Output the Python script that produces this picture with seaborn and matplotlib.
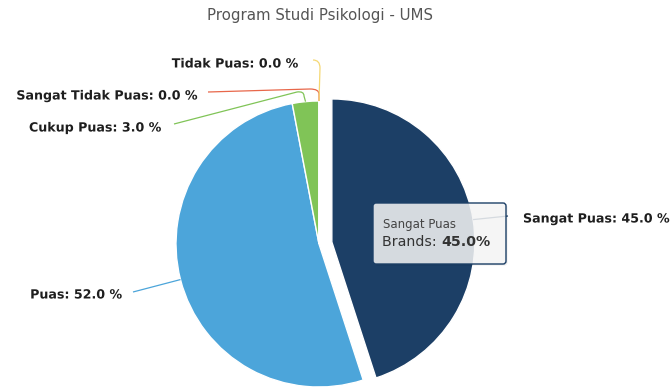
import numpy as np
import matplotlib
matplotlib.use("Agg")
import matplotlib.pyplot as plt
import matplotlib.patheffects as pe
from matplotlib.patches import FancyBboxPatch
from matplotlib.path import Path
from matplotlib.patches import PathPatch
import seaborn as sns

# Survey result: satisfaction with the study program
categories = ["Sangat Puas", "Puas", "Cukup Puas", "Sangat Tidak Puas", "Tidak Puas"]
values = [45.0, 52.0, 3.0, 0.0, 0.0]
colors = ["#1c3f66", "#4ca5da", "#80c457", "#e8674a", "#f5d874"]
title = "Program Studi Psikologi - UMS"
series_name = "Brands"
highlight = "Sangat Puas"

W, H = 672, 389
sns.set_theme(style="white")
plt.rcParams["font.family"] = ["DejaVu Sans"]

fig = plt.figure(figsize=(W / 100, H / 100), dpi=100)
ax = fig.add_axes([0, 0, 1, 1])


def Y(y):
    """Screen-style y (down) to axes y (up)."""
    return H - y


cx, cy, r = 319, Y(244), 143
# explode distance is in data units (pixels here)
explode = [13.0 if c == highlight else 0.0 for c in categories]
wedges, _ = ax.pie(values, colors=colors, startangle=90, counterclock=False,
                   center=(cx, cy), radius=r, explode=explode,
                   wedgeprops=dict(edgecolor="white", linewidth=1.0))
ax.set_xlim(0, W)
ax.set_ylim(0, H)
ax.set_aspect("equal")
ax.axis("off")


def edge_point(w):
    mid = np.deg2rad((w.theta1 + w.theta2) / 2)
    x0, y0 = w.center
    return x0 + w.r * np.cos(mid), y0 + w.r * np.sin(mid)


# label text anchors (right or left end, screen y) and connector route
layout = {
    "Sangat Puas": dict(tx=523, ty=219, ha="left", route=[(508, 216)]),
    "Puas": dict(tx=122, ty=295, ha="right", route=[(133, 292)]),
    "Cukup Puas": dict(tx=161, ty=128, ha="right",
                       route=[("c", (304, 91), (297, 92)), (174, 124)]),
    "Sangat Tidak Puas": dict(tx=197, ty=96, ha="right",
                              route=[("c", (319, 89), (310, 89)), (208, 92)]),
    "Tidak Puas": dict(tx=298, ty=64, ha="right",
                       route=[("c", (320, 60), (313, 60))]),
}

halo = [pe.withStroke(linewidth=2.2, foreground="white")]
for w, cat, val, col in zip(wedges, categories, values, colors):
    L = layout[cat]
    ex, ey = edge_point(w)
    verts, codes = [(ex, ey)], [Path.MOVETO]
    for step in L["route"]:
        if step[0] == "c":
            ctrl, end = step[1], step[2]
            # straight run toward the bend, then a rounded corner
            verts.append((ctrl[0], Y(ctrl[1]) - 8 if ctrl[1] < 80 else Y(ctrl[1]) - 5))
            codes.append(Path.LINETO)
            verts += [(ctrl[0], Y(ctrl[1])), (end[0], Y(end[1]))]
            codes += [Path.CURVE3, Path.CURVE3]
        else:
            verts.append((step[0], Y(step[1])))
            codes.append(Path.LINETO)
    ax.add_patch(PathPatch(Path(verts, codes), facecolor="none",
                           edgecolor=col, linewidth=0.9, zorder=3))
    ax.text(L["tx"], Y(L["ty"]), f"{cat}: {val:.1f} %", ha=L["ha"], va="center",
            fontsize=9.1, fontweight="bold", color="#1e1e1e",
            path_effects=halo, zorder=5)

ax.text(320, Y(15), title, ha="center", va="center", fontsize=10.8,
        color="#555555", zorder=5)

# hover tooltip for the highlighted slice
hi = categories.index(highlight)
bx0, by0, bx1, by1 = 373, 203, 506, 264
shadow = FancyBboxPatch((bx0 + 1.5, Y(by1) - 1.5), bx1 - bx0, by1 - by0,
                        boxstyle="round,pad=0,rounding_size=3",
                        facecolor=(0, 0, 0, 0.08), edgecolor="none", zorder=6)
ax.add_patch(shadow)
box = FancyBboxPatch((bx0, Y(by1)), bx1 - bx0, by1 - by0,
                     boxstyle="round,pad=0,rounding_size=3",
                     facecolor=(247 / 255, 247 / 255, 247 / 255, 0.85),
                     edgecolor=colors[hi], linewidth=1.0, zorder=7)
ax.add_patch(box)
ax.text(383, Y(224), highlight, ha="left", va="center", fontsize=8.5,
        color="#444444", zorder=8)
t1 = ax.text(382, Y(242), f"{series_name}: ", ha="left", va="center",
             fontsize=10.2, color="#333333", zorder=8)
fig.canvas.draw()
bb = t1.get_window_extent()
x_end = ax.transData.inverted().transform((bb.x1, bb.y0))[0]
ax.text(x_end, Y(242), f"{values[hi]:.1f}%", ha="left", va="center",
        fontsize=10.2, fontweight="bold", color="#333333", zorder=8)

fig.savefig("out.png", dpi=100)
